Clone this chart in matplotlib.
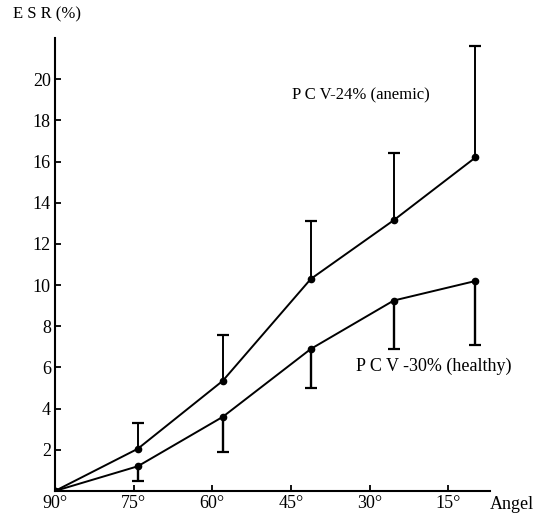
import numpy as np
import matplotlib.pyplot as plt

plt.rcParams['font.family'] = ['Liberation Serif', 'DejaVu Serif']

# --------------------
# Data (x = where the points sit on the angle axis)
angle_ticks = [90, 75, 60, 45, 30, 15]
angle_labels = ['90°', '75°', '60°', '45°', '30°', '15°']
point_pos = [90, 74.2, 58.0, 41.2, 25.4, 9.8]

esr_anemic = [0, 2.05, 5.35, 10.3, 13.15, 16.2]
anemic_top = [0, 3.3, 7.6, 13.1, 16.4, 21.6]

esr_healthy = [0, 1.2, 3.6, 6.9, 9.25, 10.2]
healthy_bottom = [0, 0.5, 1.9, 5.0, 6.9, 7.1]

y_ticks = [2, 4, 6, 8, 10, 12, 14, 16, 18, 20]

# --------------------
fig = plt.figure(figsize=(5.44, 5.2), dpi=100)
ax = fig.add_axes([0.101, 0.0558, 0.80, 0.871])

x = np.array(point_pos)
a = np.array(esr_anemic)
h = np.array(esr_healthy)

# curves with dots
ax.plot(x, a, color='black', lw=1.4, marker='o', ms=4.5)
ax.plot(x, h, color='black', lw=1.4, marker='o', ms=4.5)

# one-sided error bars: up for anemic, down for healthy (skip the 90° origin)
ax.vlines(x[1:], a[1:], np.array(anemic_top)[1:], color='black', lw=1.4)
ax.plot(x[1:], np.array(anemic_top)[1:], ls='none', marker='_', ms=9,
        mew=1.6, color='black')
ax.vlines(x[1:], np.array(healthy_bottom)[1:], h[1:], color='black', lw=1.7)
ax.plot(x[1:], np.array(healthy_bottom)[1:], ls='none', marker='_', ms=9,
        mew=1.6, color='black')

ax.set_xlim(90, 7)
ax.set_ylim(0, 22)

for side in ['top', 'right']:
    ax.spines[side].set_visible(False)
for side in ['left', 'bottom']:
    ax.spines[side].set_linewidth(1.5)

ax.set_xticks(angle_ticks)
ax.set_xticklabels(angle_labels, fontsize=13)
ax.set_yticks(y_ticks)
ax.set_yticklabels([str(v) for v in y_ticks], fontsize=13)
ax.tick_params(axis='x', direction='in', length=4, width=1.3, pad=3)
ax.tick_params(axis='y', direction='in', length=4, width=1.3, pad=3)

# Axis titles and curve labels
fig.text(0.024, 0.973, 'E S R (%)', fontsize=12, va='center', ha='left')
ax.text(1.0, -0.012, 'Angel', transform=ax.transAxes, fontsize=13,
        ha='left', va='top')
ax.text(18.5, 19.2, 'P C V-24% (anemic)', fontsize=12, ha='right', va='center')
ax.text(32.5, 6.05, 'P C V -30% (healthy)', fontsize=13, ha='left', va='center')

plt.savefig('out.png', dpi=100)
